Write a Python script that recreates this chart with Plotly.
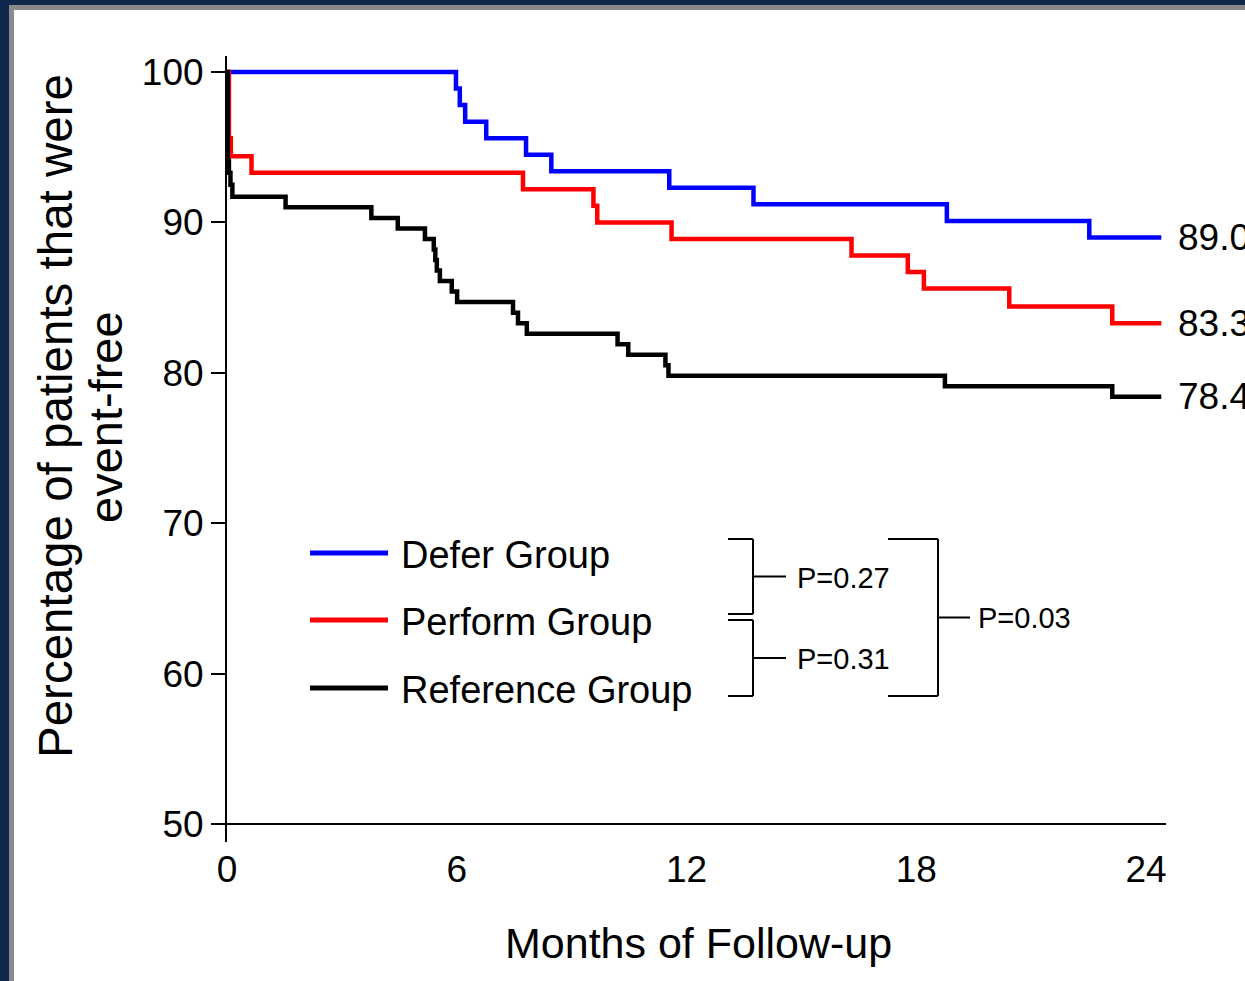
import plotly.graph_objects as go

# ---------------- data ----------------
defer_t = [0, 5.98, 6.08, 6.22, 6.77, 7.81, 8.47, 11.55, 13.75, 18.80, 22.52, 24.4]
defer_s = [100, 98.9, 97.8, 96.7, 95.6, 94.5, 93.4, 92.3, 91.2, 90.1, 89.0, 89.0]

perform_t = [0, 0.05, 0.10, 0.64, 7.73, 9.57, 9.67, 11.61, 16.31, 17.78, 18.20, 20.43, 23.12, 24.4]
perform_s = [100, 95.6, 94.4, 93.3, 92.2, 91.1, 90.0, 88.9, 87.8, 86.7, 85.6, 84.4, 83.3, 83.3]

ref_t = [0, 0.02, 0.05, 0.09, 0.14, 1.53, 3.77, 4.46, 5.17, 5.40, 5.44, 5.48, 5.56, 5.87, 6.01,
         7.47, 7.60, 7.83, 10.20, 10.48, 11.45, 11.53, 18.75, 23.12, 24.4]
ref_s = [100, 94.1, 93.3, 92.5, 91.7, 91.0, 90.3, 89.6, 88.9, 88.2, 87.5, 86.8, 86.1, 85.4, 84.7,
         84.0, 83.3, 82.6, 81.9, 81.2, 80.5, 79.8, 79.1, 78.4, 78.4]

group_names = ["Defer Group", "Perform Group", "Reference Group"]
group_colors = ["#0000ff", "#ff0000", "#000000"]
end_labels = ["89.0", "83.3", "78.4"]
p_labels = ["P=0.27", "P=0.31", "P=0.03"]

x_ticks = [0, 6, 12, 18, 24]
y_ticks = [50, 60, 70, 80, 90, 100]

# ---------------- layout geometry ----------------
W, H = 1245, 981
ML, MR, MT, MB = 227, 79, 56, 139
PW, PH = W - ML - MR, H - MT - MB
XMAX = PW / 38.29
YMIN = 50 - 18 / 15.04
YMAX = 100 + 16 / 15.04


def px(x):
    return (x - ML) / PW


def py(y):
    return (H - MB - y) / PH


FONT = "Liberation Sans, Arial, sans-serif"

fig = go.Figure()
series = [(defer_t, defer_s), (perform_t, perform_s), (ref_t, ref_s)]
for (t, s), name, col in zip(series, group_names, group_colors):
    fig.add_trace(go.Scatter(x=t, y=s, mode="lines", line=dict(color=col, width=4.5, shape="hv"),
                             name=name, showlegend=False))

shapes = []
# frame
NAVY = "#0f284b"
GRAY = "#8a8a8a"
shapes.append(dict(type="rect", xref="paper", yref="paper", x0=px(0), x1=px(9), y0=py(H), y1=py(0),
                   fillcolor=NAVY, line_width=0))
shapes.append(dict(type="rect", xref="paper", yref="paper", x0=px(0), x1=px(W), y0=py(5), y1=py(0),
                   fillcolor=NAVY, line_width=0))
shapes.append(dict(type="rect", xref="paper", yref="paper", x0=px(9), x1=px(14), y0=py(H), y1=py(5),
                   fillcolor=GRAY, line_width=0))
shapes.append(dict(type="rect", xref="paper", yref="paper", x0=px(9), x1=px(W), y0=py(10), y1=py(5),
                   fillcolor=GRAY, line_width=0))

annotations = []
# legend
leg_y = [553, 620, 688]
for name, col, yy in zip(group_names, group_colors, leg_y):
    shapes.append(dict(type="line", xref="paper", yref="paper", x0=px(310), x1=px(388),
                       y0=py(yy), y1=py(yy), line=dict(color=col, width=5)))
    annotations.append(dict(xref="paper", yref="paper", x=px(399), y=py(yy + 2), text=name,
                            showarrow=False, xanchor="left", yanchor="middle",
                            font=dict(family=FONT, size=38, color="black")))

# brackets
def bracket(x_open, x_v, y_top, y_bot, x_tick):
    ym = (y_top + y_bot) / 2
    for seg in [(x_open, y_top, x_v, y_top), (x_v, y_top, x_v, y_bot), (x_open, y_bot, x_v, y_bot),
                (x_v, ym, x_tick, ym)]:
        shapes.append(dict(type="line", xref="paper", yref="paper", x0=px(seg[0]), y0=py(seg[1]),
                           x1=px(seg[2]), y1=py(seg[3]), line=dict(color="black", width=2)))

bracket(728, 753, 539, 614, 786)
bracket(728, 753, 620, 696, 786)
bracket(888, 938, 539, 696, 970)
p_pos = [(795, 578), (795, 659), (976, 618)]
for lab, (xx, yy) in zip(p_labels, p_pos):
    annotations.append(dict(xref="paper", yref="paper", x=px(xx), y=py(yy), text=lab,
                            showarrow=False, xanchor="left", yanchor="middle",
                            font=dict(family=FONT, size=29, color="black")))

# end labels (cut by the right edge, as in the original slide)
for lab, s in zip(end_labels, [defer_s[-1], perform_s[-1], ref_s[-1]]):
    annotations.append(dict(xref="paper", yref="y", x=px(1176), y=s, text=lab, showarrow=False,
                            xanchor="left", yanchor="middle",
                            font=dict(family=FONT, size=37, color="black")))

# axis titles
annotations.append(dict(xref="paper", yref="paper", x=px(698), y=py(943), text="Months of Follow-up",
                        showarrow=False, xanchor="center", yanchor="middle",
                        font=dict(family=FONT, size=43, color="black")))
annotations.append(dict(xref="paper", yref="paper", x=px(55), y=py(416),
                        text="Percentage of patients that were", textangle=-90,
                        showarrow=False, xanchor="center", yanchor="middle",
                        font=dict(family=FONT, size=47.5, color="black")))
annotations.append(dict(xref="paper", yref="paper", x=px(105), y=py(417), text="event-free",
                        textangle=-90, showarrow=False, xanchor="center", yanchor="middle",
                        font=dict(family=FONT, size=47, color="black")))

fig.update_layout(
    width=W, height=H,
    margin=dict(l=ML, r=MR, t=MT, b=MB, autoexpand=False),
    paper_bgcolor="white", plot_bgcolor="white",
    shapes=shapes, annotations=annotations,
    showlegend=False,
    xaxis=dict(range=[0, XMAX], tickvals=x_ticks, ticktext=[str(v) for v in x_ticks],
               showgrid=False, zeroline=False, showline=True, linecolor="black", linewidth=2,
               ticks="", anchor="free", position=(50 - YMIN) / (YMAX - YMIN),
               tickfont=dict(family=FONT, size=37, color="black"), ticklabelstandoff=13,
               automargin=False),
    yaxis=dict(range=[YMIN, YMAX], tickvals=y_ticks, ticktext=[str(v) for v in y_ticks],
               showgrid=False, zeroline=False, showline=True, linecolor="black", linewidth=2,
               ticks="outside", ticklen=14, tickwidth=2, tickcolor="black",
               tickfont=dict(family=FONT, size=37, color="black"), automargin=False),
)

fig.write_html(
    "out.html",
    config={"displayModeBar": False},
    post_script="document.body.style.margin='0';document.body.style.overflow='hidden';",
)
